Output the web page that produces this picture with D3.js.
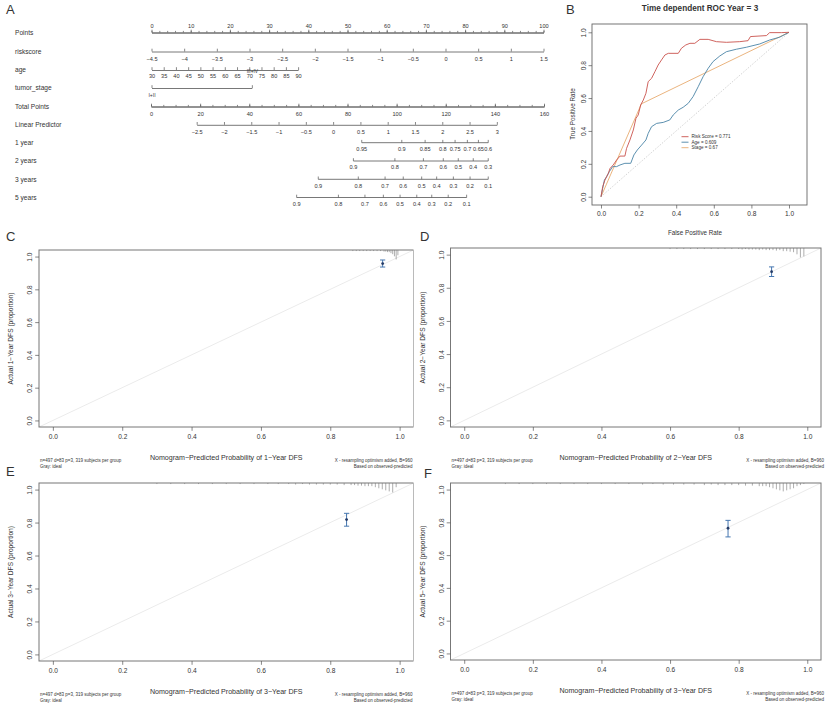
<!DOCTYPE html>
<html><head><meta charset="utf-8">
<script src="https://cdn.jsdelivr.net/npm/d3@7/dist/d3.min.js"></script>
<style>
body{margin:0;background:#fff}
text{font-family:Arial,"Liberation Sans",Helvetica,sans-serif;fill:#333}
</style></head>
<body><svg id="c" width="825" height="706"></svg>
<script>
// ---------------- DATA ----------------
// Nomogram (panel A)
const nomoRows = ["Points","riskscore","age","tumor_stage","Total Points","Linear Predictor","1 year","2 years","3 years","5 years"];
const pointsTicks = [0,10,20,30,40,50,60,70,80,90,100];
const riskscoreTicks = [-4.5,-4,-3.5,-3,-2.5,-2,-1.5,-1,-0.5,0,0.5,1,1.5];
const riskscoreRange = [-4.5,1.5];
const ageTicks = [30,35,40,45,50,55,60,65,70,75,80,85,90];
const ageRange = [30,90];
const ageMaxPoints = 37.4;
const stageLevels = ["I+II","III+IV"];
const stagePoints = [0,25.6];
const totalTicks = [0,20,40,60,80,100,120,140,160];
const lpTicks = [-2.5,-2,-1.5,-1,-0.5,0,0.5,1,1.5,2,2.5,3];
const lpRange = [-2.5,3];
const lpTotalPoints = [18.6,140.8];
const surv1Labels = ["0.95","0.9","0.85","0.8","0.75","0.7","0.65","0.6"];
const surv1Points = [85.8,102.1,111.6,118.8,123.8,128.8,133.3,137.3];
const surv2Labels = ["0.9","0.8","0.7","0.6","0.5","0.4","0.3"];
const surv2Points = [82.4,99.3,110.9,119.0,125.1,131.2,137.3];
const surv3Labels = ["0.9","0.8","0.7","0.6","0.5","0.4","0.3","0.2","0.1"];
const surv3Points = [68.1,84.4,95.3,102.7,110.2,116.3,123.1,129.9,137.3];
const surv5Labels = ["0.9","0.8","0.7","0.6","0.5","0.4","0.3","0.2","0.1"];
const surv5Points = [59.3,76.3,87.1,94.6,101.4,108.2,114.3,121.0,128.5];

// ROC (panel B)
const rocTitle = "Time dependent ROC Year = 3";
const rocNames = ["Risk Score = 0.771","Age = 0.609","Stage = 0.67"];
const rocRisk = [[0,0],[0.009,0.061],[0.021,0.101],[0.039,0.142],[0.048,0.172],[0.065,0.193],[0.083,0.223],[0.101,0.247],[0.127,0.247],[0.136,0.294],[0.154,0.345],[0.172,0.406],[0.186,0.477],[0.198,0.497],[0.211,0.558],[0.225,0.588],[0.239,0.629],[0.251,0.700],[0.269,0.720],[0.287,0.761],[0.304,0.801],[0.322,0.832],[0.340,0.862],[0.358,0.872],[0.411,0.872],[0.428,0.903],[0.451,0.923],[0.473,0.933],[0.499,0.933],[0.526,0.957],[0.570,0.957],[0.614,0.943],[0.667,0.939],[0.738,0.943],[0.782,0.949],[0.795,0.974],[0.880,0.980],[0.897,0.998],[0.959,0.998],[1,1]];
const rocAge = [[0,0],[0.009,0.051],[0.018,0.101],[0.030,0.122],[0.044,0.152],[0.062,0.183],[0.083,0.183],[0.101,0.193],[0.127,0.203],[0.158,0.203],[0.175,0.254],[0.193,0.284],[0.216,0.314],[0.239,0.345],[0.251,0.385],[0.269,0.426],[0.296,0.446],[0.331,0.452],[0.366,0.467],[0.384,0.497],[0.411,0.527],[0.437,0.544],[0.464,0.568],[0.490,0.609],[0.517,0.669],[0.543,0.730],[0.570,0.781],[0.596,0.822],[0.632,0.856],[0.667,0.882],[0.720,0.897],[0.773,0.909],[0.844,0.929],[0.897,0.953],[0.950,0.970],[1,1]];
const rocStage = [[0,0],[0.215,0.565],[1,1]];
const rocTicks = [0,0.2,0.4,0.6,0.8,1.0];

// Calibration (panels C-F)
const calLetters = ["C","D","E","F"];
const calYearY = ["1","2","3","5"];
const calYearX = ["1","2","3","3"];
const calPredicted = [0.951,0.896,0.847,0.769];
const calObserved = [0.957,0.897,0.818,0.764];
const calLower = [0.936,0.868,0.778,0.711];
const calUpper = [0.979,0.926,0.856,0.812];
const calTicks = [0,0.2,0.4,0.6,0.8,1.0];
const calNoteLeft = ["n=497 d=83 p=3, 319 subjects per group","Gray: ideal"];
const calNoteRight = ["X - resampling optimism added, B=960","Based on observed-predicted"];
const rugC = [[0.865,1],[0.875,1],[0.885,1],[0.895,1],[0.905,1],[0.915,1],[0.925,1],[0.935,1],[0.945,1],[0.955,1.5],[0.96,1.5],[0.965,2],[0.97,2],[0.975,3],[0.98,4],[0.985,6],[0.99,9],[0.995,5]];
const rugD = [[0.60,1],[0.62,1],[0.64,1],[0.66,1],[0.68,1],[0.70,1],[0.72,1],[0.74,1],[0.76,1],[0.78,1],[0.80,1],[0.81,1.5],[0.82,1],[0.83,1.5],[0.84,1.5],[0.85,1.5],[0.86,2],[0.87,1.5],[0.88,2],[0.89,2],[0.90,2],[0.91,2.5],[0.92,2],[0.93,3],[0.94,3],[0.95,3.5],[0.96,4],[0.97,6],[0.98,9],[0.99,8]];
const rugE = [[0.30,1],[0.34,1],[0.38,1],[0.42,1],[0.46,1],[0.50,1],[0.54,1],[0.58,1],[0.62,1],[0.65,1],[0.68,1],[0.70,1.5],[0.72,1],[0.74,1.5],[0.76,1.5],[0.78,1.5],[0.80,1.5],[0.82,1.5],[0.84,2],[0.86,2],[0.87,2],[0.88,2.5],[0.89,2.5],[0.90,3],[0.91,3],[0.92,3],[0.93,4],[0.94,5],[0.95,6],[0.96,7],[0.97,8],[0.98,9],[0.99,4]];
const rugF = [[0.12,1],[0.16,1],[0.20,1],[0.24,1],[0.28,1],[0.32,1],[0.36,1],[0.40,1],[0.44,1],[0.48,1],[0.52,1.5],[0.55,1],[0.58,1.5],[0.61,1.5],[0.64,1.5],[0.67,1.5],[0.70,2],[0.72,1.5],[0.74,2],[0.76,2],[0.78,2],[0.80,2],[0.82,2.5],[0.84,2.5],[0.86,3],[0.87,3],[0.88,3],[0.89,4],[0.90,5],[0.91,6],[0.92,7],[0.93,8],[0.94,7],[0.95,6],[0.96,5],[0.97,3],[0.98,2],[0.99,1]];
const rugs = [rugC,rugD,rugE,rugF];

// ---------------- DRAW ----------------
const svg = d3.select("#c");
const ink = "#333", axisCol = "#555";

function letter(x,y,t){ svg.append("text").attr("x",x).attr("y",y).attr("font-size",13).text(t); }

// ===== Panel A : nomogram =====
letter(6,14,"A");
const rowY = [32.5,51.5,70,88,106.5,124.8,142.7,161,179.3,197.5];
const gA = svg.append("g");
gA.selectAll("text.rl").data(nomoRows).join("text").attr("class","rl")
  .attr("x",15).attr("y",(d,i)=>rowY[i]+2.4).attr("font-size",6.6).text(d=>d);

const ptsX = d3.scaleLinear().domain([0,100]).range([151.5,543.5]);
const totX = d3.scaleLinear().domain([0,160]).range([151,544]);

function styleAxis(g, fs){
  g.select(".domain").attr("stroke",axisCol).attr("stroke-width",0.8);
  g.selectAll(".tick line").attr("stroke",axisCol).attr("stroke-width",0.7);
  g.selectAll(".tick text").attr("font-size",fs).attr("fill",ink).attr("font-family","Arial,'Liberation Sans',sans-serif");
}
// axis with ticks up, labels below
function nomoAxis(scale, y, ticks, fmt, fs, minor, pad){
  const g = gA.append("g").attr("transform",`translate(0,${y})`);
  if (minor){
    const gm = gA.append("g").attr("transform",`translate(0,${y})`);
    gm.call(d3.axisBottom(scale).tickValues(minor).tickSizeInner(-1.6).tickSizeOuter(0).tickFormat(""));
    styleAxis(gm,5.6);
  }
  g.call(d3.axisBottom(scale).tickValues(ticks).tickSizeInner(-2.8).tickSizeOuter(0).tickPadding(pad===undefined?5.5:pad).tickFormat(fmt));
  styleAxis(g,fs);
  return g;
}
// Points axis (labels above)
{
  const gm = gA.append("g").attr("transform",`translate(0,${rowY[0]})`);
  gm.call(d3.axisTop(ptsX).tickValues(d3.range(0,101,2)).tickSizeInner(1.6).tickSizeOuter(0).tickFormat(""));
  styleAxis(gm,5.6);
  const g = gA.append("g").attr("transform",`translate(0,${rowY[0]})`);
  g.call(d3.axisTop(ptsX).tickValues(pointsTicks).tickSizeInner(2.8).tickSizeOuter(0).tickPadding(2.2).tickFormat(d3.format("d")));
  styleAxis(g,5.6);
}
// riskscore
const rsX = d3.scaleLinear().domain(riskscoreRange).range([ptsX(0),ptsX(100)]);
nomoAxis(rsX,rowY[1],riskscoreTicks,d=>d3.format("")(d).replace("-","\u2212"),5.6);
// age
const ageX = d3.scaleLinear().domain(ageRange).range([ptsX(0),ptsX(ageMaxPoints)]);
nomoAxis(ageX,rowY[2],ageTicks,d3.format("d"),5.6,null,4.3);
// tumor_stage
{
  const stX = d3.scalePoint().domain(stageLevels).range([ptsX(stagePoints[0]),ptsX(stagePoints[1])]);
  const g = gA.append("g").attr("transform",`translate(0,${rowY[3]})`);
  g.call(d3.axisBottom(stX).tickSizeInner(-2.8).tickSizeOuter(0).tickPadding(5.5));
  styleAxis(g,5);
  g.selectAll(".tick text").filter(d=>d==="III+IV").attr("y",-15.3).attr("dy",0).attr("font-size",4.8).attr("fill","#222");
}
// total points
nomoAxis(totX,rowY[4],totalTicks,d3.format("d"),5.6,d3.range(0,161,5));
// linear predictor
{
  const lpX = d3.scaleLinear().domain(lpRange).range([totX(lpTotalPoints[0]),totX(lpTotalPoints[1])]);
  nomoAxis(lpX,rowY[5],lpTicks,d=>d3.format("")(d).replace("-","\u2212"),5.6);
}
// survival axes
[[surv1Labels,surv1Points],[surv2Labels,surv2Points],[surv3Labels,surv3Points],[surv5Labels,surv5Points]].forEach((s,i)=>{
  const sc = d3.scaleOrdinal().domain(s[0]).range(s[1].map(p=>totX(p)));
  const g = gA.append("g").attr("transform",`translate(0,${rowY[6+i]})`);
  g.append("line").attr("x1",sc(s[0][0])).attr("x2",sc(s[0][s[0].length-1])).attr("stroke",axisCol).attr("stroke-width",0.8);
  const t = g.selectAll("g.t").data(s[0]).join("g").attr("class","t").attr("transform",d=>`translate(${sc(d)},0)`);
  t.append("line").attr("y2",-2.8).attr("stroke",axisCol).attr("stroke-width",0.7);
  t.append("text").attr("y",8.3).attr("text-anchor","middle").attr("font-size",5.6).text(d=>d);
});

// ===== Panel B : ROC =====
letter(566,14,"B");
const rx = d3.scaleLinear().domain([0,1]).range([601,789]);
const ry = d3.scaleLinear().domain([0,1]).range([196.7,32.3]);
const gB = svg.append("g");
gB.append("text").attr("x",700).attr("y",11).attr("text-anchor","middle").attr("font-size",8.2).attr("font-weight","bold").text(rocTitle);
gB.append("rect").attr("x",592).attr("y",24).attr("width",215).attr("height",181).attr("fill","none").attr("stroke","#666").attr("stroke-width",0.9);
gB.append("line").attr("x1",rx(0)).attr("y1",ry(0)).attr("x2",rx(1)).attr("y2",ry(1)).attr("stroke","#c8c8c8").attr("stroke-width",0.8).attr("stroke-dasharray","1.5,1.5");
const rocCols = ["#c9524d","#4a83a6","#e8ac70"];
const line = d3.line().x(d=>rx(d[0])).y(d=>ry(d[1]));
[rocStage,rocAge,rocRisk].forEach((d,i)=>{
  gB.append("path").datum(d).attr("d",line).attr("fill","none").attr("stroke",[rocCols[2],rocCols[1],rocCols[0]][i]).attr("stroke-width",0.9);
});
{
  const g = gB.append("g").attr("transform","translate(0,205)");
  g.call(d3.axisBottom(rx).tickValues(rocTicks).tickSize(3.5).tickPadding(3).tickFormat(d3.format(".1f")));
  styleAxis(g,6.6); g.select(".domain").remove();
  const gl = gB.append("g").attr("transform","translate(592,0)");
  gl.call(d3.axisLeft(ry).tickValues(rocTicks).tickSize(3.5).tickFormat(d3.format(".1f")));
  styleAxis(gl,6.6); gl.select(".domain").remove();
  gl.selectAll(".tick text").attr("x",0).attr("y",-6.5).attr("dy",0).attr("text-anchor","middle").attr("transform","rotate(-90)");
}
gB.append("text").attr("x",695).attr("y",235).attr("text-anchor","middle").attr("font-size",6.3).text("False Positive Rate");
gB.append("text").attr("transform","translate(575,114) rotate(-90)").attr("text-anchor","middle").attr("font-size",6.3).text("True Positive Rate");
rocNames.forEach((n,i)=>{
  const yy = 136.7+i*5.5;
  gB.append("line").attr("x1",681.5).attr("x2",688.5).attr("y1",yy).attr("y2",yy).attr("stroke",rocCols[i]).attr("stroke-width",0.9);
  gB.append("text").attr("x",691.5).attr("y",yy+1.6).attr("font-size",4.6).text(n);
});

// ===== Panels C-F : calibration =====
const calBoxes = [
  {l:39,t:250,r:413.5,b:427,lx:6,ly:241},
  {l:450.5,t:248,r:821,b:427,lx:420,ly:241},
  {l:39,t:483,r:413.5,b:661,lx:6,ly:476},
  {l:450.5,t:483,r:821,b:660,lx:424,ly:478}
];
const clip = svg.append("defs");
calLetters.forEach((L,i)=>{
  const B = calBoxes[i];
  const g = svg.append("g");
  letter(B.lx,B.ly,L);
  const x = d3.scaleLinear().domain([-0.04,1.04]).range([B.l,B.r]);
  const y = d3.scaleLinear().domain([-0.04,1.04]).range([B.b,B.t]);
  clip.append("clipPath").attr("id","cp"+i).append("rect").attr("x",B.l).attr("y",B.t).attr("width",B.r-B.l).attr("height",B.b-B.t);
  clip.append("clipPath").attr("id","cpp"+i).append("rect").attr("x",i%2===0?0:413.5).attr("y",0).attr("width",i%2===0?413.5:412).attr("height",706);
  const gc = g.append("g").attr("clip-path",`url(#cpp${i})`);
  // ideal line
  gc.append("line").attr("clip-path",`url(#cp${i})`).attr("x1",x(-0.04)).attr("y1",y(-0.04)).attr("x2",x(1.04)).attr("y2",y(1.04)).attr("stroke","#ebebeb").attr("stroke-width",1);
  // rug histogram at top
  gc.selectAll("line.rug").data(rugs[i]).join("line").attr("class","rug")
    .attr("x1",d=>x(d[0])).attr("x2",d=>x(d[0])).attr("y1",B.t).attr("y2",d=>B.t+d[1]*1.05)
    .attr("stroke","#777").attr("stroke-width",0.6);
  // box
  gc.append("rect").attr("x",B.l).attr("y",B.t).attr("width",B.r-B.l).attr("height",B.b-B.t).attr("fill","none").attr("stroke","#777").attr("stroke-width",1);
  // error bar + point
  const px = x(calPredicted[i]);
  gc.append("line").attr("x1",px).attr("x2",px).attr("y1",y(calLower[i])).attr("y2",y(calUpper[i])).attr("stroke","#4677b0").attr("stroke-width",1);
  [calLower[i],calUpper[i]].forEach(v=>gc.append("line").attr("x1",px-2.6).attr("x2",px+2.6).attr("y1",y(v)).attr("y2",y(v)).attr("stroke","#4677b0").attr("stroke-width",1));
  gc.append("circle").attr("cx",px).attr("cy",y(calObserved[i])).attr("r",1.4).attr("fill","#243a66");
  // axes
  const gx = gc.append("g").attr("transform",`translate(0,${B.b})`);
  gx.call(d3.axisBottom(x).tickValues(calTicks).tickSize(3.8).tickPadding(4).tickFormat(d3.format(".1f")));
  styleAxis(gx,6.6); gx.select(".domain").remove();
  const gy = gc.append("g").attr("transform",`translate(${B.l},0)`);
  gy.call(d3.axisLeft(y).tickValues(calTicks).tickSize(3.8).tickFormat(d3.format(".1f")));
  styleAxis(gy,6.6); gy.select(".domain").remove();
  gy.selectAll(".tick text").attr("x",0).attr("y",-7).attr("dy",0).attr("text-anchor","middle").attr("transform","rotate(-90)");
  // titles
  const cx = (x(0)+x(1))/2;
  gc.append("text").attr("x",cx).attr("y",B.b+32.5).attr("text-anchor","middle").attr("font-size",7.1)
    .text(`Nomogram\u2212Predicted Probability of ${calYearX[i]}\u2212Year DFS`);
  gc.append("text").attr("transform",`translate(${B.l-26},${(y(0)+y(1))/2}) rotate(-90)`).attr("text-anchor","middle").attr("font-size",6.6)
    .text(`Actual ${calYearY[i]}\u2212Year DFS (proportion)`);
  calNoteLeft.forEach((t,k)=>gc.append("text").attr("x",B.l+1).attr("y",B.b+35+k*5.6).attr("font-size",4.5).text(t));
  calNoteRight.forEach((t,k)=>gc.append("text").attr("x",B.r+(i%2===0?-1:3)).attr("y",B.b+35+k*5.6).attr("text-anchor","end").attr("font-size",4.5).text(t));
});
</script></body></html>
